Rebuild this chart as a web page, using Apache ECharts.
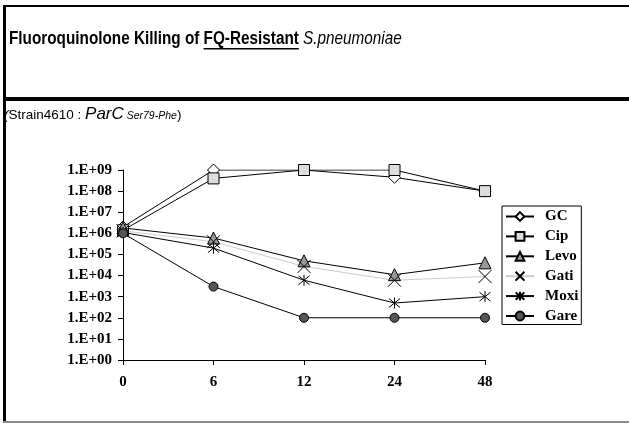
<!DOCTYPE html>
<html lang="en" style="height: 100%">
<head>
    <meta charset="utf-8">
    <title>Fluoroquinolone Killing</title>
    <script src="https://cdn.jsdelivr.net/npm/echarts@6/dist/echarts.min.js"></script>
</head>
<body style="height: 100%; margin: 0; background: #fff">
    <div id="main" style="width: 629px; height: 423px"></div>
    <script>
        // data (cfu/ml, log axis)
        const hours = ['0', '6', '12', '24', '48'];
        const gc = [2e6, 1e9, 1e9, 4.5e8, 1e8];
        const cip = [1.4e6, 4e8, 1e9, 1e9, 1e8];
        const levo = [1.8e6, 6e5, 5e4, 1.1e4, 4e4];
        const gati = [1.3e6, 4e5, 2.7e4, 6e3, 9e3];
        const moxi = [1.1e6, 2e5, 6e3, 5e2, 1e3];
        const gare = [1e6, 3e3, 1e2, 1e2, 1e2];

        const sans = '"Liberation Sans", Arial, sans-serif';
        const serif = '"Liberation Serif", "Times New Roman", serif';

        const xMark = 'path://M0,0L10,10M10,0L0,10';
        const star = 'path://M5,0L5,10M1,1L9,9M9,1L1,9';

        // text widths, used to lay out the mixed-style headings
        const ctx = document.createElement('canvas').getContext('2d');
        function tw(font, s) { ctx.font = font; return ctx.measureText(s).width; }

        // title: Arial Narrow look = Liberation Sans squeezed horizontally
        const tB = 'bold 18px ' + sans;
        const tI = 'italic 18px ' + sans;
        const t1 = 'Fluoroquinolone Killing of ';
        const t2 = 'FQ-Resistant';
        const t3 = ' S.pneumoniae';
        const w1 = tw(tB, t1), w2 = tw(tB, t2);

        // subtitle pieces
        const sub = [
            ['(', 'italic 13.5px ' + sans, 13.5],
            ['Strain4610 : ', '13.5px ' + sans, 13.5],
            ['ParC', 'italic 17px ' + sans, 17],
            [' Ser79-Phe', 'italic 10.5px ' + sans, 10.5],
            [')', '13.5px ' + sans, 13.5]
        ];
        const subEls = [];
        let sx = 4;
        sub.forEach(function (p) {
            subEls.push({
                type: 'text', x: sx, y: 120 - p[2] * 0.33,
                style: { text: p[0], font: p[1], fill: '#000', verticalAlign: 'middle' }
            });
            sx += tw(p[1], p[0]);
        });

        function mk(name, data, symbol, size, fill, lineColor) {
            return {
                name: name,
                type: 'line',
                data: data,
                symbol: symbol,
                symbolSize: size,
                lineStyle: { color: lineColor || '#000', width: 1 },
                itemStyle: { color: fill, borderColor: '#000', borderWidth: 1 },
                emphasis: { disabled: true },
                animation: false
            };
        }

        const myChart = echarts.init(document.getElementById('main'));
        myChart.setOption({
            backgroundColor: '#fff',
            animation: false,
            graphic: [
                { type: 'rect', shape: { x: 3, y: 5, width: 3, height: 418 }, style: { fill: '#000' } },
                { type: 'rect', shape: { x: 3, y: 5, width: 626, height: 2 }, style: { fill: '#000' } },
                { type: 'rect', shape: { x: 3, y: 97, width: 626, height: 4 }, style: { fill: '#000' } },
                { type: 'rect', shape: { x: 3, y: 421, width: 626, height: 2 }, style: { fill: '#888' } },
                {
                    type: 'group', x: 9, y: 0, scaleX: 0.85,
                    children: [
                        { type: 'text', x: 0, y: 39, style: { text: t1, font: tB, fill: '#000', verticalAlign: 'middle' } },
                        { type: 'text', x: w1, y: 39, style: { text: t2, font: tB, fill: '#000', verticalAlign: 'middle' } },
                        { type: 'rect', shape: { x: w1, y: 48, width: w2, height: 1.5 }, style: { fill: '#000' } },
                        { type: 'text', x: w1 + w2, y: 39, style: { text: t3, font: tI, fill: '#000', verticalAlign: 'middle' } }
                    ]
                },
                { type: 'group', children: subEls }
            ],
            legend: {
                orient: 'vertical',
                left: 502,
                top: 206,
                padding: [3, 3, 1, 3],
                itemWidth: 28,
                itemHeight: 11,
                itemGap: 4.9,
                borderColor: '#000',
                borderWidth: 1,
                textStyle: { fontFamily: serif, fontWeight: 'bold', fontSize: 15, lineHeight: 15, color: '#000', padding: [0, 0, 0, 6] },
                data: ['GC', 'Cip', 'Levo', 'Gati', 'Moxi', 'Gare']
            },
            grid: { left: 123, right: 144, top: 170, bottom: 63 },
            xAxis: {
                type: 'category',
                boundaryGap: false,
                data: hours,
                axisLine: { lineStyle: { color: '#000', width: 1 } },
                axisTick: { show: true, length: 5, lineStyle: { color: '#000' } },
                axisLabel: { fontFamily: serif, fontWeight: 'bold', fontSize: 15, color: '#000', margin: 15 }
            },
            yAxis: {
                type: 'log',
                logBase: 10,
                min: 1,
                max: 1e9,
                axisLine: { show: true, lineStyle: { color: '#000', width: 1 } },
                axisTick: { show: true, length: 5, lineStyle: { color: '#000' } },
                splitLine: { show: false },
                axisLabel: {
                    fontFamily: serif, fontWeight: 'bold', fontSize: 15, color: '#000', margin: 11,
                    formatter: function (v) {
                        const e = Math.round(Math.log10(v));
                        return '1.E+' + (e < 10 ? '0' : '') + e;
                    }
                }
            },
            series: [
                mk('GC', gc, 'diamond', 12, '#fff'),
                mk('Cip', cip, 'rect', 11, '#ddd'),
                mk('Levo', levo, 'triangle', 12, '#999'),
                mk('Gati', gati, xMark, 13, 'rgba(0,0,0,0)', '#ccc'),
                mk('Moxi', moxi, star, 11, 'rgba(0,0,0,0)'),
                mk('Gare', gare, 'circle', 9, '#555')
            ]
        });
    </script>
</body>
</html>
